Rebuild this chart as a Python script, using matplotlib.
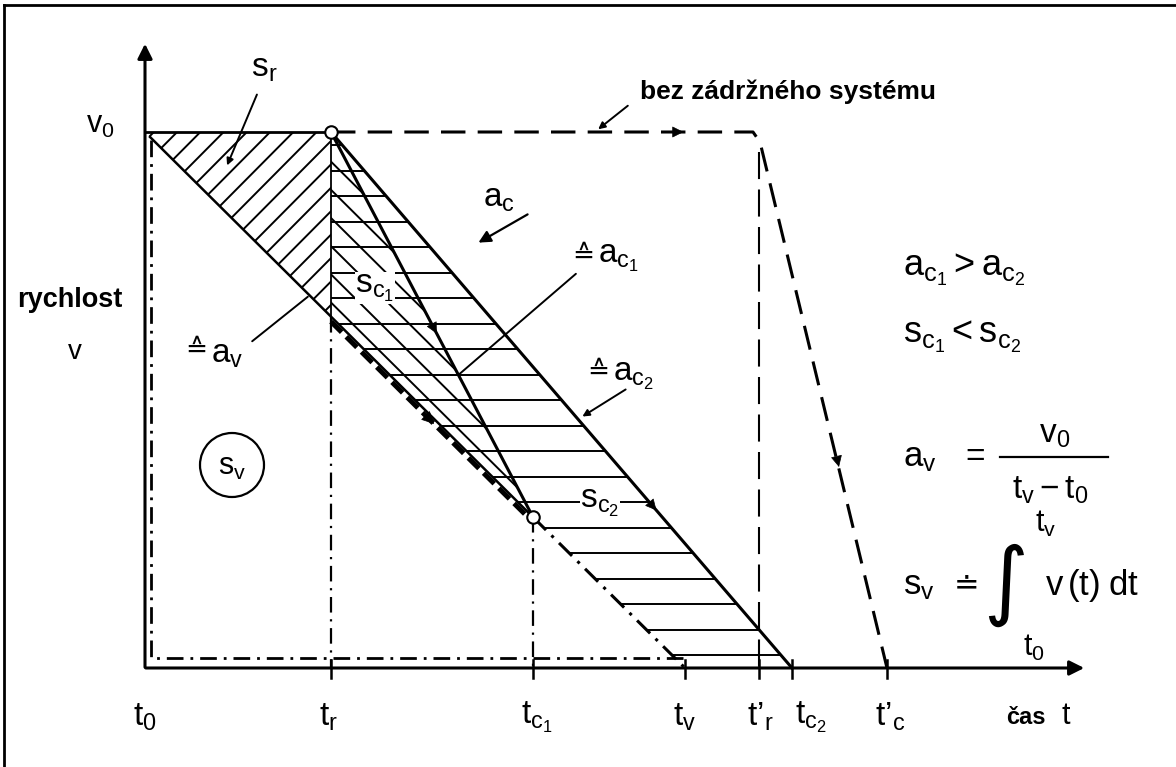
#!/usr/bin/env python3
"""
Stopping diagram v(t): vehicle with / without restraint system
"""

import numpy as np
import matplotlib.pyplot as plt
from matplotlib.patches import Polygon, Circle
from matplotlib.lines import Line2D

plt.rcParams['font.family'] = ['Liberation Sans', 'DejaVu Sans']
plt.rcParams['mathtext.fontset'] = 'custom'
plt.rcParams['mathtext.rm'] = 'Liberation Sans'
plt.rcParams['mathtext.it'] = 'Liberation Sans:italic'
plt.rcParams['mathtext.bf'] = 'Liberation Sans:bold'
plt.rcParams['mathtext.default'] = 'regular'

# time marks on the axis (1 unit = 100 px of the scan)
tick_labels = [r'$t_0$', r'$t_r$', r'$t_{c_1}$', r'$t_v$', r'$t\mathrm{’}_r$', r'$t_{c_2}$',
               r'$t\mathrm{’}_c$']
tick_times = [0.0, 1.86, 3.88, 5.40, 6.14, 6.47, 7.42]
v0 = 5.36

t0, tr, tc1, tv, tr2, tc2, tc_ = tick_times


def v_av(t):
    # mean deceleration line from (t0, v0) to (tv, 0)
    return v0 * (1 - (t - t0) / (tv - t0))


v_tr = v_av(tr)
v_c1 = v_av(tc1)

K = 'black'
SYM = 'DejaVu Sans'


def P(x, y):
    """scan pixel -> data coords (only for labels / leaders)"""
    return ((x - 145) / 100.0, (668 - y) / 100.0)


def hatch(ax, pts, slope, spacing, lw=1.4):
    """draw clipped hatch lines y = slope*x + c inside polygon pts"""
    patch = Polygon(pts, closed=True, fill=False, lw=0)
    ax.add_patch(patch)
    pts = np.asarray(pts)
    xs = np.array([pts[:, 0].min() - 1, pts[:, 0].max() + 1])
    if slope is None:
        for c in np.arange(pts[:, 1].min() + spacing * 0.5, pts[:, 1].max(), spacing):
            ln, = ax.plot(xs, [c, c], color=K, lw=lw)
            ln.set_clip_path(patch)
        return
    cs = pts[:, 1] - slope * pts[:, 0]
    step = spacing * np.sqrt(1 + slope ** 2)
    for c in np.arange(cs.min() + step * 0.5, cs.max(), step):
        ln, = ax.plot(xs, slope * xs + c, color=K, lw=lw)
        ln.set_clip_path(patch)


def arrow_on(ax, p0, p1, frac, size=18):
    p0 = np.array(p0)
    p1 = np.array(p1)
    d = (p1 - p0) / np.hypot(*(p1 - p0))
    tip = p0 + frac * (p1 - p0)
    ax.annotate('', xy=tip, xytext=tip - 0.12 * d,
                arrowprops=dict(arrowstyle='-|>', mutation_scale=size, color=K, lw=0.5))


def leader(ax, start, end, head=True):
    ax.annotate('', xy=P(*end), xytext=P(*start),
                arrowprops=dict(arrowstyle='-|>' if head else '-', mutation_scale=10,
                                color=K, lw=1.4))


fig = plt.figure(figsize=(11.76, 7.67), dpi=100)
ax = fig.add_axes([0, 0, 1, 1])
ax.set_xlim(-1.45, 10.31)
ax.set_ylim(-0.99, 6.68)
ax.axis('off')

# frame of the scan (left + top edge)
fig.add_artist(Line2D([4 / 1176, 4 / 1176], [0, 1 - 5 / 767], color=K, lw=2, transform=fig.transFigure))
fig.add_artist(Line2D([4 / 1176, 1], [1 - 5 / 767, 1 - 5 / 767], color=K, lw=2, transform=fig.transFigure))

# hatched areas
s_r = [(t0, v0), (tr, v0), (tr, v_tr)]
s_c1 = [(tr, v0), (tc1, v_c1), (tr, v_tr)]
s_c2 = [(tr, v0), (tc2, 0), (tv, 0), (tr, v_tr)]
slope_av = -v0 / (tv - t0)
hatch(ax, s_r, -1 / slope_av, 0.165)
hatch(ax, s_c2, None, 0.255)
hatch(ax, s_c1, slope_av, 0.2)

# axes
ax.annotate('', xy=(9.42, 0), xytext=(-0.02, 0),
            arrowprops=dict(arrowstyle='-|>', mutation_scale=22, color=K, lw=2.2))
ax.annotate('', xy=(0, 6.27), xytext=(0, -0.02),
            arrowprops=dict(arrowstyle='-|>', mutation_scale=22, color=K, lw=2.2))
for t in tick_times[1:]:
    ax.plot([t, t], [-0.1, 0.08], color=K, lw=1.8)

# without restraint system
ax.plot([t0, tr], [v0, v0], color=K, lw=2)
ax.plot([tr, tr2 - 0.06, tr2 + 0.01, tc_], [v0, v0, v0 - 0.1, 0], color=K, lw=2.2,
        ls=(0, (8, 4)))
ax.plot([tr2, tr2], [v0 - 0.2, 0], color=K, lw=1.5, ls=(0, (13, 5)))
arrow_on(ax, (tr, v0), (tr2, v0), 0.83)
arrow_on(ax, (tr2, v0), (tc_, 0), 0.63)

# braking lines a_c1, a_c2
ax.plot([tr, tc1], [v0, v_c1], color=K, lw=2.2)
ax.plot([tr, tc2], [v0, 0], color=K, lw=2.2)
arrow_on(ax, (tr, v0), (tc1, v_c1), 0.53)
arrow_on(ax, (tr, v0), (tc2, 0), 0.71)

# mean deceleration a_v
ax.plot([t0 + 0.05, tc1], [v_av(t0 + 0.05), v_c1], color=K, lw=1.8)
ax.plot([tr, tc1 - 0.05], [v_tr - 0.05, v_av(tc1 - 0.05) - 0.05], color=K, lw=3.6,
        ls=(0, (3, 1.3)))
arrow_on(ax, (tr, v_tr - 0.05), (tc1, v_c1 - 0.05), 0.52, size=20)
ax.plot([tc1, tv], [v_c1, 0], color=K, lw=2.2, ls=(0, (6, 2.5, 1, 2.5)))

# dash-dot verticals and the s_v outline
ax.plot([0.06, 0.06, tv], [v0 - 0.08, 0.1, 0.1], color=K, lw=2, ls=(0, (6, 2.5, 1, 2.5)))
ax.plot([tr, tr], [v0, v_tr], color=K, lw=1.3)
ax.plot([tr, tr], [v_tr, 0], color=K, lw=1.6, ls=(0, (7, 3, 1, 3)))
ax.plot([tc1, tc1], [v_c1, 0], color=K, lw=1.6, ls=(0, (7, 3, 1, 3)))

ax.plot([tr, tc1], [v0, v_c1], 'o', ms=9, mfc='white', mec=K, mew=1.5, zorder=5)

# tick labels
for t, lab in zip(tick_times, tick_labels):
    dx = 0.03 if lab == r'$t_{c_2}$' else -0.12
    ax.text(t + dx, -0.49, lab, fontsize=24, ha='left', va='center')
ax.text(*P(1006, 718), 'čas', fontsize=17, fontweight='bold', ha='left', va='center')
ax.text(*P(1062, 716), 't', fontsize=22, ha='left', va='center')

# left labels
ax.text(*P(100, 125), r'$v_0$', fontsize=22, ha='center', va='center')
ax.text(*P(70, 300), 'rychlost', fontsize=19.5, fontweight='bold', ha='center', va='center')
ax.text(*P(75, 352), 'v', fontsize=20, ha='center', va='center')

# s_v in a circle
ax.add_patch(Circle(P(232, 465), 0.32, fill=False, color=K, lw=1.6))
ax.text(*P(232, 467), r'$s_v$', fontsize=22, ha='center', va='center')

# area / slope labels with leaders
ax.text(*P(264, 68), r'$s_r$', fontsize=24, ha='center', va='center')
leader(ax, (258, 92), (226, 168))
ax.text(*P(788, 92), 'bez zádržného systému', fontsize=19, fontweight='bold',
        ha='center', va='center')
leader(ax, (630, 104), (596, 131))
ax.text(*P(499, 198), r'$a_c$', fontsize=24, ha='center', va='center')
ax.annotate('', xy=P(476, 244), xytext=P(530, 213),
            arrowprops=dict(arrowstyle='-|>', mutation_scale=18, color=K, lw=1.6))

ax.text(*P(583, 256), '≙', fontsize=19, ha='center', va='center', family=SYM)
ax.text(*P(598, 258), r'$a_{c_1}$', fontsize=24, ha='left', va='center')
leader(ax, (578, 272), (456, 377), head=False)
ax.text(*P(598, 372), '≙', fontsize=19, ha='center', va='center', family=SYM)
ax.text(*P(613, 376), r'$a_{c_2}$', fontsize=24, ha='left', va='center')
leader(ax, (628, 388), (580, 418))
ax.text(*P(196, 350), '≙', fontsize=19, ha='center', va='center', family=SYM)
ax.text(*P(211, 354), r'$a_v$', fontsize=24, ha='left', va='center')
leader(ax, (250, 343), (310, 295), head=False)
ax.text(*P(375, 288), r'$s_{c_1}$', fontsize=24, ha='center', va='center',
        bbox=dict(fc='white', ec='none', pad=0.5))
ax.text(*P(600, 503), r'$s_{c_2}$', fontsize=24, ha='center', va='center',
        bbox=dict(fc='white', ec='none', pad=0.5))

# relations on the right
ax.text(*P(903, 270), r'$a_{c_1} > a_{c_2}$', fontsize=26, ha='left', va='center')
ax.text(*P(903, 337), r'$s_{c_1} < s_{c_2}$', fontsize=26, ha='left', va='center')
ax.text(*P(903, 458), r'$a_v$', fontsize=25, ha='left', va='center')
ax.text(*P(975, 458), '=', fontsize=24, ha='center', va='center')
ax.plot(*zip(P(1000, 457), P(1108, 457)), color=K, lw=1.6)
ax.text(*P(1055, 434), r'$v_0$', fontsize=24, ha='center', va='center')
ax.text(*P(1050, 490), r'$t_v - t_0$', fontsize=24, ha='center', va='center')
ax.text(*P(903, 585), r'$s_v$', fontsize=25, ha='left', va='center')
ax.text(*P(966, 585), '≐', fontsize=22, ha='center', va='center', family=SYM)
ax.text(*P(1006, 585), '∫', fontsize=62, ha='center', va='center', family=SYM)
ax.text(*P(1046, 524), r'$t_v$', fontsize=22, ha='center', va='center')
ax.text(*P(1034, 648), r'$t_0$', fontsize=22, ha='center', va='center')
ax.text(*P(1045, 585), r'$v\,(t)\;dt$', fontsize=25, ha='left', va='center')

fig.savefig('out.png', dpi=100, facecolor='white')
